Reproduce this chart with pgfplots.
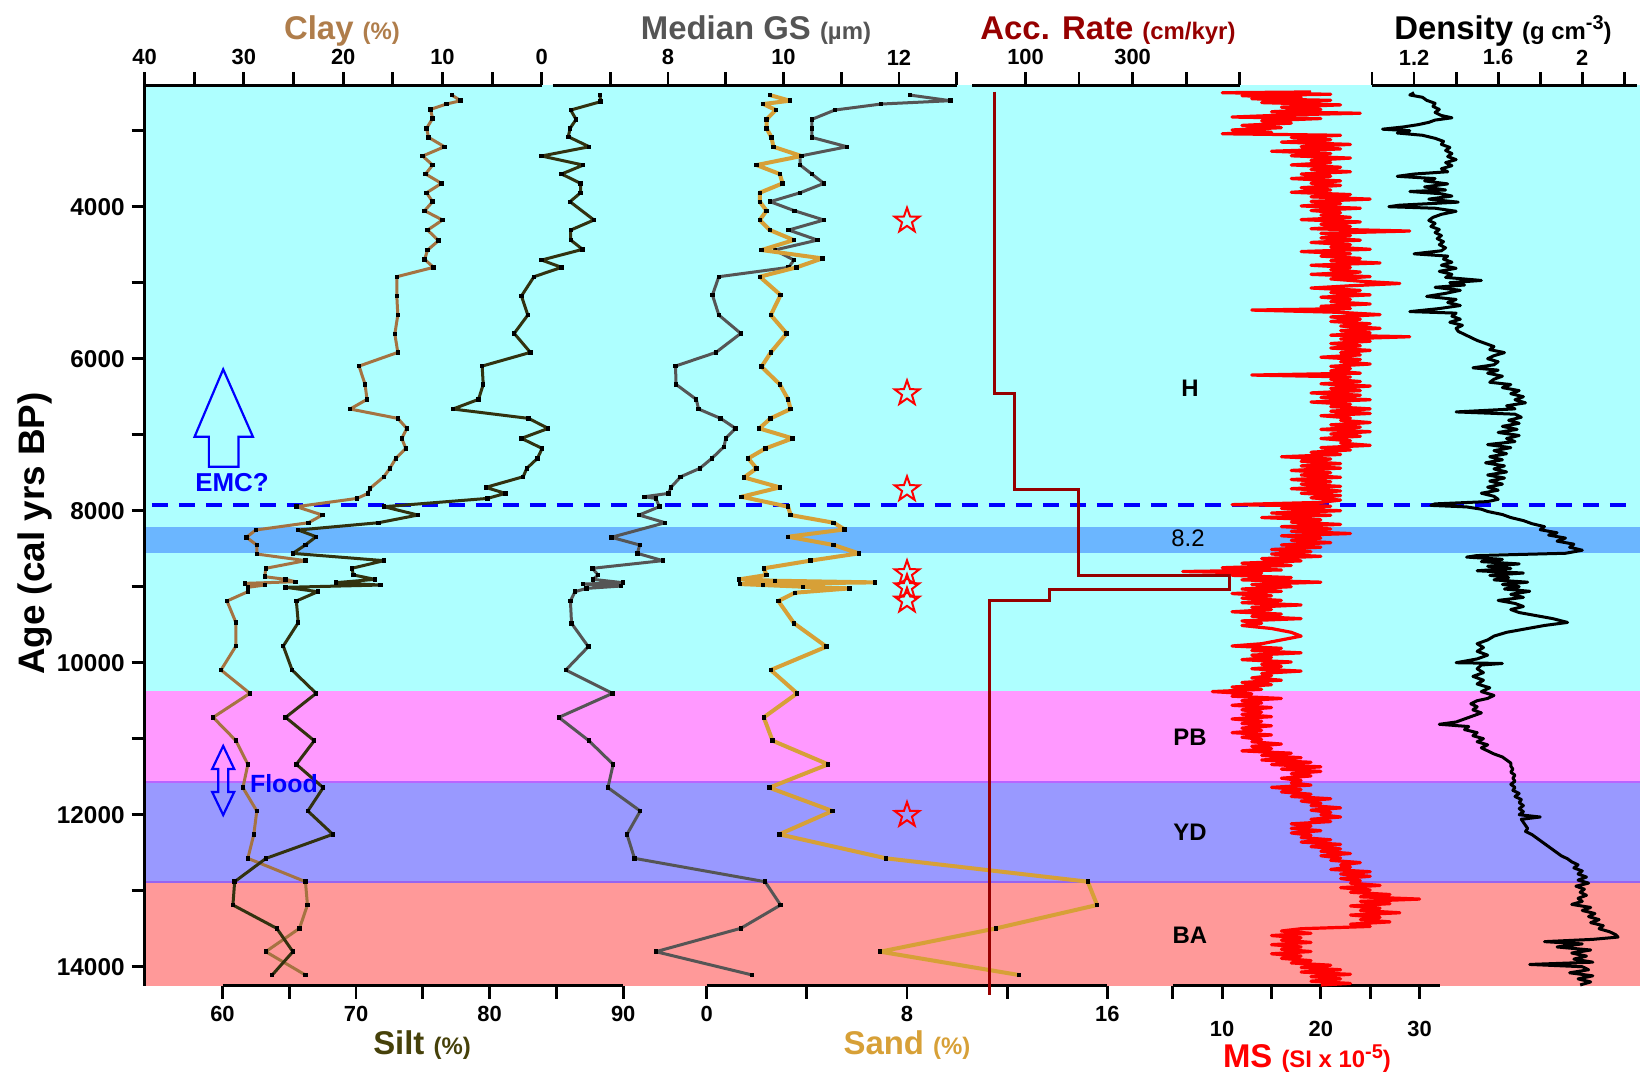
\documentclass[border=0pt]{standalone}
\usepackage{fontspec}
\setmainfont{Liberation Sans}
\usepackage{pgfplots}
\pgfplotsset{compat=1.18}

\definecolor{bgcyan}{RGB}{174,255,255}
\definecolor{bgblue}{RGB}{107,182,255}
\definecolor{bgmag}{RGB}{255,153,255}
\definecolor{bgpur}{RGB}{153,153,255}
\definecolor{bgsal}{RGB}{255,153,153}
\definecolor{bandlineA}{RGB}{185,100,255}
\definecolor{bandlineB}{RGB}{150,100,240}
\definecolor{claycol}{RGB}{165,115,65}
\definecolor{claytitle}{RGB}{175,125,75}
\definecolor{siltcol}{RGB}{50,50,15}
\definecolor{silttitle}{RGB}{70,65,10}
\definecolor{gscol}{RGB}{85,85,85}
\definecolor{sandcol}{RGB}{215,160,55}
\definecolor{acccol}{RGB}{150,0,0}

% hollow five-pointed star
\pgfdeclareplotmark{ostar}{%
  \pgfpathmoveto{\pgfpointpolar{90}{\pgfplotmarksize}}%
  \pgfpathlineto{\pgfpointpolar{126}{0.4\pgfplotmarksize}}%
  \pgfpathlineto{\pgfpointpolar{162}{\pgfplotmarksize}}%
  \pgfpathlineto{\pgfpointpolar{198}{0.4\pgfplotmarksize}}%
  \pgfpathlineto{\pgfpointpolar{234}{\pgfplotmarksize}}%
  \pgfpathlineto{\pgfpointpolar{270}{0.4\pgfplotmarksize}}%
  \pgfpathlineto{\pgfpointpolar{306}{\pgfplotmarksize}}%
  \pgfpathlineto{\pgfpointpolar{342}{0.4\pgfplotmarksize}}%
  \pgfpathlineto{\pgfpointpolar{18}{\pgfplotmarksize}}%
  \pgfpathlineto{\pgfpointpolar{54}{0.4\pgfplotmarksize}}%
  \pgfpathclose
  \pgfusepathqstroke
}

\pgfplotsset{
  base/.style={
    scale only axis, height=450.3bp,
    y dir=reverse, ymin=2400, ymax=14250,
    clip=false, anchor=south west,
    scaled x ticks=false, scaled y ticks=false,
    axis line style={line width=1.4bp, black},
    tick style={line width=1.4bp, black},
    major tick length=6.5bp, minor tick length=6.5bp,
    xticklabel style={font=\bfseries\fontsize{11}{12}\selectfont},
    yticklabel style={font=\bfseries\fontsize{12.2}{13}\selectfont},
    /pgf/number format/assume math mode=true,
    /pgf/number format/1000 sep={},
  },
  topaxis/.style={base, axis x line*=top, axis y line=none, ytick=\empty, xtick align=outside},
  botaxis/.style={base, axis x line*=bottom, axis y line=none, ytick=\empty, xtick align=outside},
  series/.style={line width=1.5bp, line join=round, mark=square*, mark size=0.85bp,
    mark options={black, fill=black, line width=0pt}},
}

\begin{document}
\begin{tikzpicture}
\useasboundingbox (0,0) rectangle (820bp,-538.5bp);

% ---------- background: climate intervals and age axis ----------
\begin{axis}[base, at={(72.3bp,-492.85bp)}, width=747.7bp, xmin=0, xmax=1,
  axis x line=none, axis y line*=left, ytick align=outside,
  ytick={4000,6000,...,14000}, minor ytick={3000,5000,...,13000}, axis on top]
  \fill[bgcyan] (axis cs:0,2400) rectangle (axis cs:1,8210);
  \fill[bgblue] (axis cs:0,8210) rectangle (axis cs:1,8560);
  \fill[bgcyan] (axis cs:0,8560) rectangle (axis cs:1,10372);
  \fill[bgmag]  (axis cs:0,10372) rectangle (axis cs:1,11565);
  \fill[bgpur]  (axis cs:0,11565) rectangle (axis cs:1,12890);
  \fill[bgsal]  (axis cs:0,12890) rectangle (axis cs:1,14250);
  \draw[bandlineA, line width=1bp] (axis cs:0,11565) -- (axis cs:1,11565);
  \draw[bandlineB, line width=1bp] (axis cs:0,12890) -- (axis cs:1,12890);
  \draw[blue, line width=2bp, dash pattern=on 8bp off 5.5bp] (axis cs:0.0048,7925) -- (axis cs:0.9967,7925);
\end{axis}

% ---------- Clay ----------
\begin{axis}[topaxis, at={(72.3bp,-492.85bp)}, width=198.6bp, xmin=0, xmax=40, x dir=reverse,
  xtick={0,10,...,40}, minor xtick={5,15,25,35}]
\addplot[series, claycol] coordinates {
(9.06,2531) (8.17,2605) (9.60,2649) (11.20,2719) (11.00,2838) (11.60,2969) (11.40,3088) (9.80,3211)
(12.00,3333) (11.00,3452) (11.70,3570) (10.10,3693) (11.60,3816) (11.00,3934) (11.80,4053) (10.00,4175)
(11.50,4307) (10.40,4447) (11.50,4570) (11.80,4693) (10.90,4798) (14.60,4921) (14.60,5175) (14.50,5425)
(14.80,5675) (14.50,5917) (18.40,6097) (17.80,6338) (17.60,6535) (19.30,6662) (14.50,6785) (13.60,6917)
(14.10,7048) (13.70,7180) (14.70,7311) (15.30,7443) (15.90,7553) (17.30,7706) (17.50,7772) (18.60,7838)
(24.70,7947) (22.10,8057) (23.50,8158) (28.80,8254) (29.75,8350) (28.70,8451) (28.70,8570) (23.80,8657)
(27.80,8758) (27.90,8868) (25.80,8903) (24.80,8934) (29.90,8956) (27.90,8978) (29.60,9008) (29.60,9065)
(31.70,9188) (30.80,9473) (30.80,9780) (32.30,10096) (29.40,10403) (33.10,10719) (30.80,11026) (29.60,11337)
(30.10,11644) (28.70,11951) (29.00,12258) (29.60,12574) (23.80,12881) (23.60,13188) (24.40,13495) (27.80,13802)
(23.80,14109)};
\end{axis}

% ---------- Silt ----------
\begin{axis}[botaxis, at={(111.25bp,-492.85bp)}, width=200.35bp, xmin=60, xmax=90,
  xtick={60,70,80,90}, minor xtick={65,75,85}]
\addplot[series, siltcol] coordinates {
(88.26,2531) (88.31,2618) (86.07,2728) (86.47,2851) (86.02,2969) (85.89,3079) (87.46,3211) (83.89,3333)
(87.01,3452) (85.39,3570) (86.81,3693) (86.81,3816) (86.02,3934) (87.81,4175) (86.07,4307) (86.07,4439)
(86.96,4561) (83.89,4702) (85.39,4798) (83.32,4921) (82.38,5175) (82.86,5425) (81.84,5667) (83.05,5917)
(79.44,6097) (79.52,6338) (79.17,6535) (77.25,6662) (82.91,6785) (84.39,6917) (82.38,7048) (83.93,7180)
(83.58,7311) (82.78,7443) (82.51,7553) (79.71,7693) (81.18,7772) (79.84,7838) (72.09,7947) (74.63,8057)
(71.68,8158) (65.67,8254) (67.01,8342) (66.20,8451) (65.27,8561) (72.09,8657) (69.68,8758) (69.81,8846)
(71.42,8903) (68.48,8947) (71.82,8978) (64.73,9008) (67.14,9065) (65.53,9188) (65.67,9473) (64.55,9780)
(65.21,10096) (67.01,10403) (64.73,10719) (66.87,11026) (65.53,11337) (67.54,11644) (66.39,11951) (68.26,12258)
(63.26,12574) (60.91,12881) (60.78,13188) (64.06,13495) (65.27,13802) (63.72,14109)};
\end{axis}

% ---------- Median grain size ----------
\begin{axis}[topaxis, at={(276.25bp,-492.85bp)}, width=202.1bp, xmin=6, xmax=13,
  xtick={8,10,12}, minor xtick={7,9,11,13}]
\addplot[series, gscol] coordinates {
(12.19,2531) (12.89,2605) (11.69,2649) (10.89,2728) (10.49,2851) (10.49,2969) (10.49,3088) (11.10,3211)
(10.29,3333) (10.29,3452) (10.49,3570) (10.70,3693) (10.29,3816) (9.77,3934) (10.19,4053) (10.70,4175)
(10.09,4307) (10.59,4439) (9.85,4570) (10.18,4702) (10.09,4798) (8.88,4921) (8.77,5162) (8.88,5425)
(9.26,5667) (8.83,5917) (8.13,6097) (8.14,6338) (8.49,6535) (8.53,6662) (8.91,6785) (9.17,6917)
(9.00,7048) (8.97,7158) (8.76,7311) (8.55,7443) (8.22,7553) (8.05,7693) (8.01,7772) (7.59,7816)
(7.79,7838) (7.85,7947) (7.50,8057) (7.95,8158) (7.02,8350) (7.51,8451) (7.47,8561) (7.91,8657)
(6.69,8758) (6.79,8846) (6.70,8903) (7.22,8947) (6.53,8965) (7.19,8991) (6.59,9022) (6.39,9065)
(6.31,9188) (6.33,9482) (6.62,9789) (6.23,10096) (7.04,10403) (6.11,10719) (6.63,11026) (7.05,11337)
(6.96,11644) (7.52,11951) (7.29,12258) (7.42,12574) (9.68,12881) (9.95,13188) (9.26,13495) (7.79,13802)
(9.46,14109)};
\end{axis}

% ---------- Sand ----------
\begin{axis}[botaxis, at={(353.35bp,-492.85bp)}, width=200.3bp, xmin=0, xmax=16,
  xtick={0,8,16}, minor xtick={4,12}]
\addplot[series, sandcol, line width=2bp] coordinates {
(2.52,2531) (3.32,2605) (2.26,2649) (2.76,2728) (2.39,2851) (2.39,2969) (2.59,3088) (2.66,3211)
(3.78,3333) (1.99,3452) (2.92,3570) (3.03,3693) (2.12,3816) (2.12,3934) (2.39,4053) (2.12,4175)
(2.52,4307) (3.48,4439) (2.19,4570) (4.62,4680) (3.59,4798) (2.12,4921) (2.95,5162) (2.56,5425)
(3.19,5667) (2.56,5917) (2.19,6105) (2.92,6338) (3.25,6535) (3.35,6662) (2.55,6785) (2.10,6917)
(3.43,7048) (2.35,7180) (1.66,7311) (1.99,7443) (1.49,7562) (2.92,7693) (1.39,7816) (3.25,7947)
(3.35,8057) (5.07,8158) (5.51,8246) (3.25,8342) (5.07,8451) (6.08,8561) (4.14,8657) (2.28,8758)
(2.39,8846) (1.30,8903) (2.72,8921) (6.71,8943) (1.33,8965) (2.26,8978) (3.85,9000) (5.71,9022)
(3.52,9079) (2.86,9188) (3.49,9482) (4.78,9789) (2.56,10096) (3.61,10403) (2.28,10719) (2.63,11026)
(4.85,11337) (2.50,11644) (5.02,11951) (2.90,12258) (7.17,12574) (15.22,12881) (15.59,13188) (11.56,13495)
(6.93,13802) (12.47,14109)};
% sampled levels
\addplot[only marks, mark=ostar, mark size=6.5bp, mark options={draw=red, fill=none, line width=1bp}]
  coordinates {(8,4184) (8,6456) (8,7719) (8,8824) (8,9008) (8,9184) (8,12004)};
\end{axis}

% ---------- Accumulation rate ----------
\begin{axis}[topaxis, at={(486bp,-492.85bp)}, width=133.85bp, xmin=0, xmax=500,
  xtick={100,300}, minor xtick={200,400,500}]
\addplot[acccol, line width=1.5bp] coordinates {
(42,2487) (42,6456) (79,6456) (79,7719) (198,7719) (198,8846) (481,8846) (481,9035)
(144,9035) (144,9184) (33,9184) (33,14372)};
\end{axis}

% ---------- Magnetic susceptibility ----------
\begin{axis}[botaxis, at={(586.4bp,-492.85bp)}, width=133.75bp, xmin=5, xmax=32.1,
  xtick={10,20,30}, minor xtick={5,15,25}, xticklabel style={yshift=-7.5bp}]
\addplot[red, line width=1.6bp, line join=round] coordinates {
(19,2490)(10,2500)(21,2520)(12,2540)(18,2560)(13,2580)(21,2600)(14,2630)(22,2660)(16,2690)(20,2720)(15,2750)
(24,2770)(17,2790)(11,2820)(20,2840)(14,2870)(17,2900)(12,2930)(16,2960)(11,2990)(15,3020)(10,3040)(22,3060)
(17,3090)(21,3120)(16,3150)(23,3180)(18,3210)(22,3240)(15,3270)(21,3300)(17,3330)(23,3360)(19,3390)(21,3420)
(17,3450)(22,3480)(19,3510)(23,3540)(18,3570)(21,3600)(17,3630)(22,3660)(19,3690)(22,3720)(18,3750)(21,3780)
(17,3810)(23,3840)(19,3870)(25,3900)(19,3930)(22,3960)(18,3990)(24,4020)(19,4050)(22,4080)(20,4110)(23,4140)
(18,4170)(24,4200)(20,4230)(23,4260)(19,4290)(29,4320)(20,4350)(23,4380)(20,4410)(24,4440)(19,4470)(23,4500)
(21,4530)(25,4560)(18,4590)(23,4620)(20,4650)(24,4680)(21,4710)(26,4740)(19,4770)(23,4800)(21,4830)(24,4860)
(19,4890)(25,4920)(21,4950)(24,4980)(28,5010)(23,5040)(19,5070)(24,5100)(21,5130)(25,5160)(20,5190)(23,5220)
(21,5250)(25,5280)(20,5310)(23,5340)(13,5360)(22,5390)(26,5420)(21,5450)(24,5480)(21,5510)(25,5540)(22,5570)
(26,5600)(22,5630)(25,5660)(21,5690)(29,5711)(22,5740)(25,5770)(21,5800)(24,5830)(21,5860)(25,5890)(22,5920)
(24,5950)(20,5980)(24,6010)(22,6040)(25,6070)(21,6100)(23,6130)(21,6160)(24,6190)(13,6215)(23,6240)(21,6270)
(24,6300)(20,6330)(25,6360)(21,6390)(24,6420)(19,6450)(24,6480)(20,6510)(25,6540)(19,6570)(23,6600)(21,6630)
(25,6660)(21,6690)(25,6720)(20,6750)(23,6780)(22,6810)(25,6840)(21,6870)(24,6900)(20,6930)(25,6960)(21,6990)
(24,7020)(20,7050)(23,7080)(22,7110)(25,7140)(20,7170)(23,7200)(19,7230)(22,7260)(16,7290)(21,7320)(18,7350)
(22,7380)(18,7410)(22,7440)(17,7470)(21,7500)(18,7530)(22,7560)(17,7590)(21,7620)(18,7650)(22,7680)(17,7710)
(22,7740)(18,7770)(22,7800)(19,7830)(22,7860)(20,7890)(11,7920)(21,7940)(16,7970)(22,8000)(15,8030)(21,8060)
(14,8090)(20,8120)(17,8150)(22,8180)(16,8210)(21,8240)(17,8270)(23,8300)(16,8330)(20,8360)(17,8390)(21,8420)
(16,8450)(20,8480)(15,8510)(19,8540)(15,8570)(20,8600)(14,8630)(18,8660)(12,8690)(17,8720)(10,8750)(16,8780)
(6,8800)(14,8820)(11,8850)(17,8880)(12,8910)(20,8940)(13,8970)(17,9000)(12,9030)(16,9060)(11,9090)(15,9120)
(12,9150)(16,9180)(12,9210)(18,9240)(13,9270)(15,9300)(11,9330)(16,9360)(13,9390)(18,9420)(12,9450)(14,9480)
(12,9510)(15,9550)(17,9600)(18,9650)(16,9700)(14,9750)(11,9780)(16,9810)(13,9840)(18,9870)(13,9900)(15,9930)
(12,9960)(17,9990)(14,10020)(16,10050)(13,10080)(18,10110)(14,10140)(15,10170)(13,10200)(16,10230)(12,10260)
(15,10290)(11,10320)(14,10350)(9,10380)(13,10410)(11,10440)(16,10470)(12,10500)(14,10530)(11,10560)(15,10590)
(12,10620)(14,10650)(12,10680)(15,10710)(11,10740)(14,10770)(12,10800)(15,10830)(12,10860)(14,10890)(11,10920)
(15,10950)(12,10980)(14,11010)(13,11040)(16,11070)(13,11100)(15,11130)(12,11160)(17,11190)(14,11220)(18,11250)
(14,11280)(19,11310)(15,11340)(20,11370)(16,11400)(20,11430)(17,11460)(19,11490)(16,11520)(18,11550)(17,11580)
(19,11610)(15,11640)(18,11670)(16,11700)(19,11730)(17,11760)(21,11790)(18,11820)(20,11850)(19,11880)(22,11910)
(19,11940)(21,11970)(20,12000)(22,12030)(19,12060)(21,12090)(17,12120)(19,12150)(17,12180)(20,12210)(17,12240)
(19,12270)(18,12300)(21,12330)(18,12360)(22,12390)(19,12420)(22,12450)(20,12480)(23,12510)(20,12540)(22,12570)
(21,12600)(24,12630)(22,12660)(23,12690)(21,12720)(25,12750)(22,12780)(25,12810)(22,12840)(24,12870)(23,12900)
(26,12930)(22,12960)(25,12990)(23,13020)(27,13050)(24,13080)(30,13110)(24,13140)(27,13170)(23,13200)(26,13230)
(24,13260)(28,13290)(23,13320)(26,13350)(24,13380)(27,13410)(23,13440)(25,13470)(18,13500)(16,13530)(19,13560)
(15,13590)(18,13620)(16,13650)(19,13680)(15,13710)(18,13740)(16,13770)(19,13800)(15,13830)(18,13860)(16,13890)
(19,13920)(17,13950)(21,13980)(18,14010)(22,14040)(18,14070)(23,14100)(19,14130)(22,14160)(19,14190)(23,14220)
(20,14240)};
\end{axis}

% ---------- Density ----------
\begin{axis}[topaxis, at={(686bp,-492.85bp)}, width=132.25bp, xmin=1, xmax=2.258,
  xtick={1.2,1.6,2.0}, minor xtick={1.0,1.4,1.8,2.2}]
\addplot[black, line width=1.5bp, line join=round] coordinates {
(1.20,2500)(1.18,2530)(1.24,2560)(1.26,2600)(1.30,2640)(1.29,2680)(1.32,2720)(1.30,2760)(1.33,2800)(1.38,2830)
(1.30,2860)(1.27,2890)(1.22,2920)(1.15,2950)(1.05,2980)(1.18,3000)(1.12,3030)(1.24,3060)(1.30,3100)(1.34,3140)
(1.33,3180)(1.37,3220)(1.35,3260)(1.38,3300)(1.36,3340)(1.40,3380)(1.35,3420)(1.38,3460)(1.33,3500)(1.36,3540)
(1.20,3570)(1.12,3600)(1.30,3630)(1.25,3660)(1.36,3700)(1.25,3740)(1.35,3780)(1.18,3800)(1.33,3830)(1.38,3860)
(1.27,3900)(1.41,3940)(1.13,3980)(1.08,4000)(1.30,4020)(1.40,4060)(1.33,4100)(1.29,4140)(1.27,4180)(1.30,4220)
(1.28,4260)(1.32,4300)(1.30,4340)(1.33,4380)(1.31,4420)(1.34,4460)(1.32,4500)(1.35,4540)(1.33,4580)(1.20,4620)
(1.36,4650)(1.34,4690)(1.38,4730)(1.33,4770)(1.40,4810)(1.32,4850)(1.38,4890)(1.35,4930)(1.52,4970)(1.37,5000)
(1.44,5030)(1.30,5060)(1.42,5100)(1.35,5140)(1.26,5180)(1.40,5220)(1.36,5260)(1.42,5300)(1.32,5340)(1.18,5380)
(1.40,5400)(1.38,5440)(1.42,5480)(1.37,5520)(1.43,5560)(1.40,5600)(1.41,5640)(1.44,5680)(1.47,5720)(1.50,5760)
(1.54,5800)(1.58,5840)(1.56,5880)(1.63,5920)(1.58,5960)(1.55,6000)(1.60,6040)(1.58,6080)(1.48,6120)(1.60,6150)
(1.55,6190)(1.62,6230)(1.58,6270)(1.56,6310)(1.66,6340)(1.62,6380)(1.70,6420)(1.66,6460)(1.72,6500)(1.68,6540)
(1.73,6580)(1.64,6620)(1.68,6660)(1.40,6700)(1.68,6730)(1.71,6770)(1.65,6810)(1.70,6850)(1.62,6890)(1.69,6930)
(1.60,6970)(1.70,7010)(1.64,7050)(1.68,7090)(1.55,7130)(1.66,7170)(1.58,7210)(1.64,7250)(1.56,7290)(1.62,7330)
(1.54,7370)(1.63,7410)(1.58,7450)(1.64,7490)(1.55,7530)(1.63,7570)(1.56,7610)(1.62,7650)(1.55,7690)(1.60,7730)
(1.52,7770)(1.58,7810)(1.60,7850)(1.55,7880)(1.30,7910)(1.28,7930)(1.45,7950)(1.52,7980)(1.55,8010)(1.62,8050)
(1.66,8090)(1.72,8130)(1.76,8170)(1.82,8210)(1.80,8250)(1.88,8290)(1.84,8320)(1.92,8360)(1.88,8400)(1.96,8440)
(1.94,8480)(2.00,8520)(1.92,8560)(1.50,8590)(1.45,8610)(1.62,8640)(1.52,8670)(1.70,8700)(1.55,8730)(1.66,8760)
(1.50,8790)(1.72,8820)(1.56,8850)(1.65,8880)(1.58,8910)(1.74,8940)(1.62,8970)(1.70,9000)(1.63,9030)(1.75,9060)
(1.66,9100)(1.72,9140)(1.60,9180)(1.68,9220)(1.72,9260)(1.66,9300)(1.70,9340)(1.78,9380)(1.86,9420)(1.93,9470)
(1.82,9510)(1.72,9560)(1.64,9600)(1.58,9650)(1.55,9700)(1.50,9750)(1.53,9800)(1.50,9850)(1.55,9900)(1.50,9950)
(1.40,10000)(1.62,10010)(1.52,10030)(1.50,10080)(1.53,10130)(1.48,10180)(1.53,10230)(1.50,10280)(1.56,10330)
(1.52,10380)(1.58,10430)(1.55,10470)(1.50,10500)(1.47,10540)(1.50,10580)(1.48,10620)(1.52,10660)(1.48,10700)
(1.44,10740)(1.40,10780)(1.32,10810)(1.46,10840)(1.44,10880)(1.50,10920)(1.48,10960)(1.53,11000)(1.50,11040)
(1.55,11080)(1.52,11120)(1.55,11160)(1.58,11200)(1.62,11240)(1.64,11280)(1.66,11320)(1.66,11360)(1.67,11400)
(1.66,11440)(1.68,11480)(1.67,11520)(1.68,11560)(1.66,11600)(1.68,11640)(1.67,11680)(1.70,11720)(1.68,11760)
(1.71,11800)(1.70,11840)(1.72,11880)(1.70,11920)(1.72,11960)(1.70,12000)(1.80,12030)(1.71,12060)(1.72,12100)
(1.73,12140)(1.74,12180)(1.73,12220)(1.76,12260)(1.78,12300)(1.80,12340)(1.82,12380)(1.84,12420)(1.86,12460)
(1.88,12500)(1.90,12540)(1.93,12580)(1.95,12620)(1.98,12660)(1.96,12700)(2.00,12740)(1.98,12780)(2.02,12820)
(1.98,12860)(2.03,12900)(1.97,12940)(2.01,12980)(1.99,13020)(2.02,13060)(1.98,13100)(2.00,13140)(1.95,13180)
(2.04,13220)(2.00,13260)(2.06,13300)(2.03,13340)(2.08,13380)(2.04,13420)(2.10,13460)(2.08,13500)(2.13,13540)
(2.16,13580)(2.17,13610)(2.05,13640)(1.82,13670)(2.00,13700)(1.88,13740)(2.04,13780)(1.95,13820)(2.02,13860)
(1.96,13900)(2.05,13940)(1.75,13970)(2.00,14000)(2.03,14040)(1.94,14080)(2.05,14120)(1.98,14160)(2.04,14200)
(1.99,14240)};
\end{axis}

% ---------- titles, interval labels and annotations ----------
\begin{scope}[x=0.5bp, y=-0.5bp]
  \node[anchor=base, text=claytitle, font=\bfseries\fontsize{16.5}{18}\selectfont]
    at (342,39) {Clay {\fontsize{12}{14}\selectfont(\%)}};
  \node[anchor=base, text=gscol, font=\bfseries\fontsize{16.5}{18}\selectfont]
    at (756,39) {Median GS {\fontsize{12}{14}\selectfont(µm)}};
  \node[anchor=base, text=acccol, font=\bfseries\fontsize{16.5}{18}\selectfont]
    at (1108,39) {Acc. Rate {\fontsize{12}{14}\selectfont(cm/kyr)}};
  \node[anchor=base, text=black, font=\bfseries\fontsize{16.5}{18}\selectfont]
    at (1503,39) {Density {\fontsize{12}{14}\selectfont(g cm\raisebox{0.75ex}{\fontsize{10}{10}\selectfont-3})}};
  \node[anchor=base, text=silttitle, font=\bfseries\fontsize{16.5}{18}\selectfont]
    at (422,1055) {Silt {\fontsize{12}{14}\selectfont(\%)}};
  \node[anchor=base, text=sandcol, font=\bfseries\fontsize{16.5}{18}\selectfont]
    at (907,1055) {Sand {\fontsize{12}{14}\selectfont(\%)}};
  \node[anchor=base, text=red, font=\bfseries\fontsize{16.5}{18}\selectfont]
    at (1307,1068) {MS {\fontsize{12}{14}\selectfont(SI x 10\raisebox{0.75ex}{\fontsize{10}{10}\selectfont-5})}};
  \node[anchor=base, rotate=90, font=\bfseries\fontsize{18.5}{20}\selectfont]
    at (44.6,533.5) {Age (cal yrs BP)};

  \node[font=\bfseries\fontsize{12}{13}\selectfont] at (1190,388) {H};
  \node[font=\fontsize{12}{13}\selectfont] at (1188,538) {8.2};
  \node[font=\bfseries\fontsize{12}{13}\selectfont] at (1190,737) {PB};
  \node[font=\bfseries\fontsize{12}{13}\selectfont] at (1190,832) {YD};
  \node[font=\bfseries\fontsize{12}{13}\selectfont] at (1190,935) {BA};

  % EMC arrow
  \draw[blue, line width=1.1bp, line join=miter]
    (223.2,369.3) -- (252.9,436.7) -- (238.6,436.7) -- (238.6,466.7)
    -- (208.9,466.7) -- (208.9,436.7) -- (194.6,436.7) -- cycle;
  \node[text=blue, font=\bfseries\fontsize{13}{14}\selectfont] at (232,483) {EMC?};
  % flood double arrow
  \draw[blue, line width=1.1bp, line join=miter]
    (223.2,746) -- (234.2,769) -- (228.2,769) -- (228.2,792) -- (234.2,792) -- (223.2,815)
    -- (212.2,792) -- (218.2,792) -- (218.2,769) -- (212.2,769) -- cycle;
  \node[text=blue, font=\bfseries\fontsize{12.5}{14}\selectfont] at (284,784) {Flood};
\end{scope}
\end{tikzpicture}
\end{document}
